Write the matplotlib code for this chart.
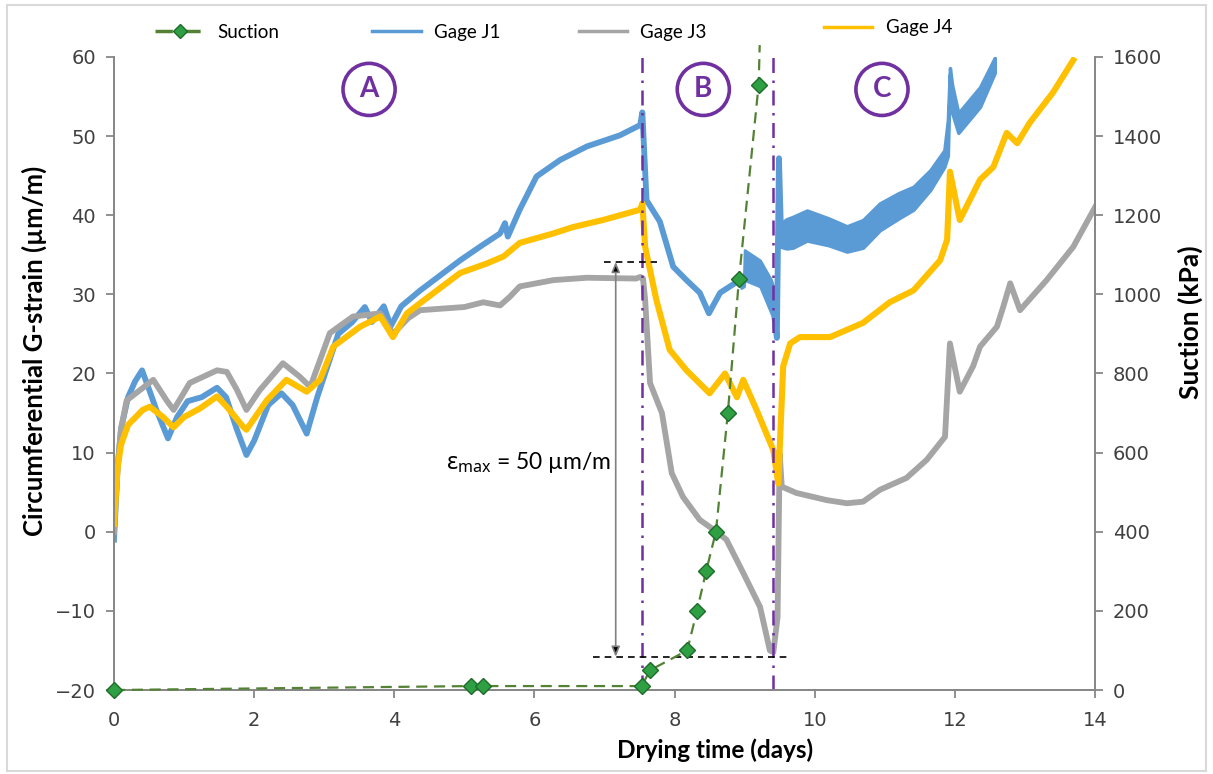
import matplotlib
matplotlib.use('Agg')
from matplotlib import pyplot
from matplotlib.patches import Rectangle

#: Rendered size (pixels = inches * dpi)
SIZE = (12.13, 7.74)
DPI = 100

BLUE = '#5B9BD5'
GRAY = '#A5A5A5'
GOLD = '#FFC000'
PURPLE = '#7030A0'
GREEN_LINE = '#548235'
GREEN_MARK = '#2EA043'

# Gage J1: thin trace, through the spike at the end of stage B
j1_day = [0, 0.05, 0.1, 0.2, 0.3, 0.4, 0.5, 0.6, 0.77, 0.9, 1.05, 1.25, 1.47, 1.6,
          1.75, 1.89, 2.0, 2.2, 2.39, 2.55, 2.75, 2.9, 3.05, 3.2, 3.4, 3.58, 3.68,
          3.85, 3.95, 4.1, 4.37, 4.94, 5.22, 5.51, 5.58, 5.62, 5.79, 6.03, 6.37,
          6.75, 7.22, 7.51, 7.54, 7.6, 7.79, 7.98, 8.17, 8.36, 8.49, 8.65, 8.93,
          8.98, 9.2, 9.4, 9.46, 9.49, 9.52]
j1 = [-1, 8, 13, 17, 19, 20.4, 18, 15.5, 11.8, 14.5, 16.5, 17, 18.2, 17,
      13, 9.7, 11.5, 16, 17.5, 16, 12.4, 17, 21, 25, 26.5, 28.4, 26.5,
      28.5, 26, 28.5, 30.5, 34.3, 36.0, 37.7, 39.0, 37.3, 40.7, 44.9, 47.0,
      48.7, 50.1, 51.4, 53, 41.9, 39.2, 33.5, 31.8, 30.2, 27.6, 30.2, 31.8,
      31.8, 32.5, 29, 24.5, 47.2, 37.5]
# Gage J1: noisy envelope (low / high) where the trace gets wide
j1_mid_day = [8.95, 8.99, 9.0, 9.22, 9.38, 9.45]
j1_mid_lo = [30.8, 31.0, 31.8, 31.0, 27.6, 26.5]
j1_mid_hi = [32.3, 32.5, 35.6, 34.3, 31.8, 29.7]
j1_late_day = [9.52, 9.6, 9.69, 9.89, 10.2, 10.46, 10.69, 10.93, 11.2, 11.41,
               11.65, 11.85, 11.9, 11.93, 11.96, 12.05, 12.36, 12.57]
j1_late_lo = [36.0, 35.8, 35.9, 36.8, 36.2, 35.4, 35.9, 38.1, 39.6, 40.7,
              43.2, 46.1, 47.5, 57.8, 53.0, 50.4, 53.7, 58.0]
j1_late_hi = [39.0, 39.5, 39.8, 40.6, 39.6, 38.6, 39.4, 41.5, 42.8, 43.6,
              45.7, 48.2, 52.0, 58.6, 56.5, 52.9, 56.2, 59.9]

# Gage J3
j3_day = [0, 0.05, 0.1, 0.18, 0.37, 0.56, 0.75, 0.85, 1.08, 1.47, 1.61, 1.75,
          1.89, 2.08, 2.41, 2.65, 2.8, 3.08, 3.41, 3.8, 3.98, 4.2, 4.37, 5.0,
          5.27, 5.51, 5.65, 5.79, 6.27, 6.75, 7.45, 7.51, 7.55, 7.58, 7.65, 7.82,
          7.96, 8.12, 8.36, 8.6, 8.74, 8.98, 9.22, 9.36, 9.41, 9.47, 9.5, 9.53,
          9.74, 9.98, 10.17, 10.46, 10.69, 10.93, 11.31, 11.6, 11.86, 11.93,
          12.07, 12.26, 12.36, 12.6, 12.69, 12.79, 12.93, 13.31, 13.69, 14.0]
j3 = [0, 8, 13, 16.6, 17.9, 19.2, 16.6, 15.4, 18.8, 20.4, 20.2, 18,
      15.4, 17.9, 21.3, 19.6, 18.3, 25.1, 27.2, 27.6, 25, 27, 28.0, 28.4,
      29.0, 28.6, 29.7, 31.0, 31.8, 32.1, 32.0, 32.2, 32, 29.3, 18.8, 15,
      7.4, 4.4, 1.5, 0, -1.0, -5.2, -9.5, -15, -15.2, -10.8, 9.9, 5.7,
      4.9, 4.4, 4.0, 3.6, 3.8, 5.3, 6.8, 9.1, 12, 23.8,
      17.7, 20.9, 23.4, 25.9, 28.4, 31.4, 28, 31.8, 36, 41]

# Gage J4
j4_day = [0, 0.05, 0.1, 0.2, 0.41, 0.51, 0.7, 0.85, 1.0, 1.23, 1.47, 1.61,
          1.84, 1.89, 2.18, 2.46, 2.75, 2.94, 3.13, 3.51, 3.8, 3.98, 4.18,
          4.37, 4.94, 5.32, 5.56, 5.79, 6.27, 6.55, 6.98, 7.51, 7.54, 7.58, 7.74,
          7.93, 8.17, 8.5, 8.72, 8.89, 8.98, 9.17, 9.41, 9.48, 9.55, 9.65, 9.79,
          10.22, 10.69, 11.07, 11.41, 11.79, 11.89, 11.93, 12.07, 12.36, 12.55,
          12.74, 12.89, 13.07, 13.40, 13.69]
j4 = [1, 8, 11, 13.5, 15.4, 15.8, 14.5, 13.2, 14.5, 15.6, 17.1, 15.8,
      13.3, 12.9, 16.6, 19.2, 17.7, 19.2, 23.4, 25.9, 27.2, 24.6, 27.6,
      28.9, 32.7, 33.9, 34.8, 36.5, 37.7, 38.5, 39.4, 40.7, 41.5, 36, 29.3,
      23, 20.4, 17.5, 20, 17, 19.2, 15.4, 10.3, 6.1, 20.9, 23.8, 24.6,
      24.6, 26.4, 29, 30.5, 34.3, 36.9, 45.5, 39.4, 44.5, 46.1,
      50.4, 49.1, 51.7, 55.5, 59.6]

# Suction measurements (kPa); the last point only carries the line off the top
suction_day = [0, 5.1, 5.27, 7.53, 7.65, 8.18, 8.32, 8.45, 8.59, 8.76, 8.92, 9.2, 9.215]
suction = [0, 10, 10, 10, 50, 100, 200, 300, 400, 700, 1040, 1530, 1630]

stage_bounds = [7.535, 9.40]
stage_labels = ['A', 'B', 'C']
stage_label_day = [3.64, 8.41, 10.96]

# legend entries: label, left edge of handle and height (figure fraction)
legend_labels = ['Suction', 'Gage J1', 'Gage J3', 'Gage J4']
legend_x = [0.128, 0.307, 0.477, 0.679]
legend_y = [0.958, 0.958, 0.958, 0.964]

pyplot.rcParams['font.family'] = ['Lato', 'Noto Sans', 'DejaVu Sans']
pyplot.rcParams['mathtext.fontset'] = 'custom'
pyplot.rcParams['mathtext.rm'] = 'Noto Sans'

fig = pyplot.figure(figsize=SIZE, dpi=DPI)
fig.patches.append(Rectangle((0.006, 0.004), 0.988, 0.99, transform=fig.transFigure,
                             fill=False, ec='#D9D9D9', lw=1.5))
axes = fig.add_axes([0.094, 0.1085, 0.8087, 0.8179])
axes2 = axes.twinx()

# strain gages
h_j1, = axes.plot(j1_day, j1, color=BLUE, lw=4.2)
axes.fill_between(j1_mid_day, j1_mid_lo, j1_mid_hi, color=BLUE, lw=2, ec=BLUE)
axes.fill_between(j1_late_day, j1_late_lo, j1_late_hi, color=BLUE, lw=2.5, ec=BLUE)
h_j3, = axes.plot(j3_day, j3, color=GRAY, lw=4.2)
h_j4, = axes.plot(j4_day, j4, color=GOLD, lw=4.4)

# stage boundaries
for day in stage_bounds:
    axes.axvline(day, color=PURPLE, lw=1.8, linestyle=(0, (6, 3, 1, 3)), zorder=5)

for label, day in zip(stage_labels, stage_label_day):
    axes.text(day, 55.9, label, color=PURPLE, fontsize=20, fontweight='bold',
              ha='center', va='center',
              bbox=dict(boxstyle='circle,pad=0.47', fc='white', ec=PURPLE, lw=2.6))

# maximum strain annotation
axes.plot([7.0, 7.75], [34.1, 34.1], color='black', lw=1.2, linestyle=(0, (4, 3)), zorder=6)
axes.plot([6.84, 9.65], [-15.8, -15.8], color='black', lw=1.2, linestyle=(0, (4, 3)), zorder=6)
axes.annotate('', xy=(7.16, -15.8), xytext=(7.16, 34.1),
              arrowprops=dict(arrowstyle='<|-|>,head_length=0.6,head_width=0.25',
                              ec='#808080', fc='black', lw=1.2, shrinkA=0, shrinkB=0))
axes.text(4.74, 8.8, '$\\mathrm{\u025B}_{\\mathrm{max}}$' + ' = 50 \u00b5m/m', fontsize=16.5,
          ha='left', va='center')

# suction
h_suc, = axes2.plot(suction_day, suction, color=GREEN_LINE, lw=1.6, linestyle=(0, (5, 3)),
                    marker='D', markersize=8, markerfacecolor=GREEN_MARK,
                    markeredgecolor='#1E6B2A', markeredgewidth=1,
                    markevery=list(range(len(suction) - 1)), zorder=7, clip_on=False)
axes2.set_zorder(axes.get_zorder() + 1)
axes2.patch.set_visible(False)

axes.set_xlim(0, 14)
axes.set_ylim(-20, 60)
axes2.set_ylim(0, 1600)
axes.set_xticks(range(0, 15, 2))
axes.set_yticks(range(-20, 61, 10))
axes2.set_yticks(range(0, 1601, 200))

for ax in (axes, axes2):
    ax.spines['top'].set_visible(False)
    for side in ('left', 'right', 'bottom'):
        ax.spines[side].set_color('#878787')
        ax.spines[side].set_linewidth(1.3)
    ax.tick_params(colors='#878787', labelcolor='#404040', length=6, width=1.3,
                   labelsize=14)
    for lbl in ax.get_xticklabels() + ax.get_yticklabels():
        lbl.set_family('DejaVu Sans')
axes.tick_params(axis='x', pad=9)
axes.tick_params(axis='y', pad=7)
axes2.tick_params(axis='y', pad=7)

axes.set_xlabel('Drying time (days)', fontsize=17.5, fontweight='bold')
axes.set_ylabel('Circumferential G-strain (\u00b5m/m)', fontsize=18.5, fontweight='bold')
axes2.set_ylabel('Suction (kPa)', fontsize=19, fontweight='bold')
axes.xaxis.set_label_coords(0.613, -0.077)
axes.yaxis.set_label_coords(-0.068, 0.535)
axes2.yaxis.set_label_coords(1.0846, 0.581)

for handle, label, x, y in zip([h_suc, h_j1, h_j3, h_j4], legend_labels, legend_x, legend_y):
    leg = fig.legend([handle], [label], loc='center left', bbox_to_anchor=(x, y),
                     frameon=False, fontsize=13.5, handlelength=2.6, handletextpad=0.7,
                     borderpad=0, borderaxespad=0)
    for line in leg.get_lines():
        line.set_linewidth(2.5)
        line.set_markersize(7)

fig.savefig('out.png', dpi=DPI)
